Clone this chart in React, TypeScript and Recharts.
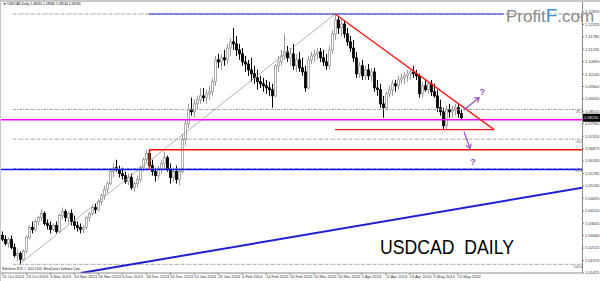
import React from 'react';
import { Bar, ComposedChart, ReferenceDot, ReferenceLine, XAxis, YAxis } from 'recharts';

// USDCAD daily, 11 Oct 2013 .. 16 May 2014
const dateLabels = [
  '11 Oct 2013', '23 Oct 2013', '4 Nov 2013', '14 Nov 2013', '26 Nov 2013', '6 Dec 2013',
  '18 Dec 2013', '31 Dec 2013', '13 Jan 2014', '23 Jan 2014', '4 Feb 2014', '14 Feb 2014',
  '26 Feb 2014', '10 Mar 2014', '20 Mar 2014', '1 Apr 2014', '11 Apr 2014', '23 Apr 2014',
  '5 May 2014', '15 May 2014',
];

// [open, high, low, close]
const candles: number[][] = [
  [1.0307, 1.0324, 1.0281, 1.0289], [1.0289, 1.0307, 1.0263, 1.0272], [1.0272, 1.0298, 1.0254, 1.0289],
  [1.0289, 1.0307, 1.0246, 1.0254], [1.0254, 1.0272, 1.0211, 1.0219], [1.0219, 1.0246, 1.0193, 1.0228],
  [1.0228, 1.0237, 1.018, 1.0202], [1.0202, 1.0246, 1.0193, 1.0237], [1.0237, 1.0307, 1.0228, 1.0298],
  [1.0298, 1.0351, 1.0289, 1.0342], [1.0342, 1.0368, 1.0316, 1.0333], [1.0333, 1.0377, 1.0324, 1.0368],
  [1.0368, 1.0394, 1.0351, 1.0386], [1.0386, 1.0421, 1.0368, 1.0403], [1.0403, 1.0412, 1.0351, 1.0359],
  [1.0359, 1.0377, 1.0333, 1.0351], [1.0351, 1.0368, 1.0316, 1.0333], [1.0333, 1.0359, 1.0324, 1.0351],
  [1.0351, 1.0368, 1.0316, 1.0324], [1.0324, 1.0403, 1.0316, 1.0394], [1.0394, 1.0429, 1.0377, 1.0412],
  [1.0412, 1.0421, 1.0368, 1.0386], [1.0386, 1.0412, 1.0359, 1.0403], [1.0403, 1.0421, 1.0351, 1.0368],
  [1.0368, 1.0394, 1.0333, 1.0351], [1.0351, 1.0368, 1.0324, 1.0342], [1.0342, 1.0359, 1.0316, 1.0333],
  [1.0333, 1.0351, 1.0316, 1.0342], [1.0342, 1.0394, 1.0333, 1.0386], [1.0386, 1.0412, 1.0368, 1.0403],
  [1.0403, 1.0438, 1.0394, 1.0429], [1.0429, 1.0447, 1.0403, 1.0421], [1.0421, 1.0464, 1.0412, 1.0456],
  [1.0456, 1.0491, 1.0438, 1.0482], [1.0482, 1.0526, 1.0464, 1.0508], [1.0508, 1.0543, 1.0491, 1.0534],
  [1.0534, 1.0596, 1.0526, 1.0587], [1.0587, 1.0622, 1.0561, 1.0604], [1.0604, 1.0639, 1.0587, 1.0596],
  [1.0596, 1.0613, 1.0561, 1.0578], [1.0578, 1.0604, 1.0552, 1.0569], [1.0569, 1.0587, 1.0534, 1.0543],
  [1.0543, 1.0578, 1.0526, 1.0561], [1.0561, 1.0578, 1.0508, 1.0517], [1.0517, 1.0543, 1.0499, 1.0534],
  [1.0534, 1.0569, 1.0517, 1.0552], [1.0552, 1.0613, 1.0543, 1.0604], [1.0604, 1.0648, 1.0587, 1.0639],
  [1.0639, 1.0683, 1.0622, 1.0666], [1.0666, 1.0674, 1.0604, 1.0613], [1.0613, 1.0639, 1.0569, 1.0587],
  [1.0587, 1.0604, 1.0543, 1.0569], [1.0569, 1.0613, 1.0552, 1.0596], [1.0596, 1.0639, 1.0578, 1.0622],
  [1.0622, 1.0674, 1.0604, 1.0648], [1.0648, 1.0657, 1.0587, 1.0596], [1.0596, 1.0622, 1.0534, 1.0561],
  [1.0561, 1.0604, 1.0543, 1.0587], [1.0587, 1.0613, 1.0534, 1.0552], [1.0552, 1.0604, 1.0526, 1.0587],
  [1.0587, 1.0753, 1.0578, 1.0727], [1.0727, 1.0814, 1.0701, 1.0797], [1.0797, 1.0884, 1.0779, 1.0858],
  [1.0858, 1.0911, 1.0832, 1.0849], [1.0849, 1.0902, 1.0823, 1.0884], [1.0884, 1.0919, 1.0858, 1.0902],
  [1.0902, 1.0954, 1.0884, 1.0919], [1.0919, 1.0954, 1.0893, 1.0911], [1.0911, 1.0946, 1.0884, 1.0928],
  [1.0928, 1.0963, 1.0902, 1.0937], [1.0937, 1.0998, 1.0919, 1.0981], [1.0981, 1.1094, 1.0963, 1.1077],
  [1.1077, 1.1103, 1.1042, 1.1068], [1.1068, 1.1103, 1.1033, 1.1086], [1.1086, 1.1121, 1.1051, 1.1077],
  [1.1077, 1.1147, 1.1059, 1.1129], [1.1129, 1.1173, 1.1094, 1.1156], [1.1156, 1.1217, 1.1121, 1.1147],
  [1.1147, 1.1182, 1.1094, 1.1121], [1.1121, 1.1147, 1.1077, 1.1103], [1.1103, 1.1129, 1.1051, 1.1068],
  [1.1068, 1.1094, 1.1024, 1.1059], [1.1059, 1.1077, 1.1007, 1.1033], [1.1033, 1.1086, 1.0981, 1.1016],
  [1.1016, 1.1051, 1.0972, 1.0998], [1.0998, 1.1033, 1.0946, 1.0981], [1.0981, 1.1007, 1.0954, 1.0972],
  [1.0972, 1.0998, 1.0937, 1.0963], [1.0963, 1.0989, 1.0928, 1.0954], [1.0954, 1.0981, 1.0919, 1.0946],
  [1.0946, 1.0972, 1.0867, 1.0919], [1.0919, 1.1059, 1.0911, 1.1051], [1.1051, 1.1094, 1.1024, 1.1068],
  [1.1068, 1.1121, 1.1051, 1.1094], [1.1094, 1.1191, 1.1077, 1.1112], [1.1112, 1.1138, 1.1068, 1.1086],
  [1.1086, 1.1129, 1.1051, 1.1103], [1.1103, 1.1147, 1.1033, 1.1051], [1.1051, 1.1103, 1.1024, 1.1077],
  [1.1077, 1.1112, 1.1024, 1.1042], [1.1042, 1.1086, 1.1007, 1.1024], [1.1024, 1.1051, 1.0937, 1.0954],
  [1.0954, 1.1094, 1.0946, 1.1077], [1.1077, 1.1112, 1.1059, 1.1094], [1.1094, 1.1121, 1.1068, 1.1103],
  [1.1103, 1.1129, 1.1077, 1.1112], [1.1112, 1.1129, 1.1068, 1.1086], [1.1086, 1.1121, 1.1051, 1.1068],
  [1.1068, 1.1103, 1.1033, 1.1051], [1.1051, 1.1138, 1.1033, 1.1121], [1.1121, 1.1208, 1.1103, 1.1191],
  [1.1191, 1.1278, 1.1164, 1.1252], [1.1252, 1.1269, 1.1191, 1.1217], [1.1217, 1.1261, 1.1182, 1.1234],
  [1.1234, 1.1252, 1.1173, 1.1191], [1.1191, 1.1217, 1.1138, 1.1156], [1.1156, 1.1182, 1.1112, 1.1129],
  [1.1129, 1.1164, 1.1068, 1.1086], [1.1086, 1.1112, 1.0998, 1.1016], [1.1016, 1.1068, 1.0998, 1.1051],
  [1.1051, 1.1077, 1.0989, 1.1007], [1.1007, 1.1051, 1.0989, 1.1033], [1.1033, 1.1059, 1.0989, 1.1007],
  [1.1007, 1.1042, 1.0981, 1.1024], [1.1024, 1.1042, 1.0937, 1.0954], [1.0954, 1.0989, 1.0919, 1.0946],
  [1.0946, 1.0972, 1.0867, 1.0884], [1.0884, 1.0919, 1.0823, 1.0867], [1.0867, 1.0937, 1.0858, 1.0928],
  [1.0928, 1.0963, 1.0911, 1.0946], [1.0946, 1.0989, 1.0919, 1.0972], [1.0972, 1.0989, 1.0937, 1.0963],
  [1.0963, 1.1007, 1.0946, 1.0989], [1.0989, 1.1016, 1.0972, 1.0998], [1.0998, 1.1024, 1.0972, 1.1007],
  [1.1007, 1.1033, 1.0981, 1.1016], [1.1016, 1.1033, 1.0989, 1.1024], [1.1024, 1.1051, 1.0998, 1.1016],
  [1.1016, 1.1033, 1.0989, 1.1007], [1.1007, 1.1016, 1.0911, 1.0928], [1.0928, 1.0981, 1.0911, 1.0963],
  [1.0963, 1.0989, 1.0937, 1.0946], [1.0946, 1.0981, 1.0928, 1.0972], [1.0972, 1.0989, 1.0919, 1.0937],
  [1.0937, 1.0972, 1.0911, 1.0919], [1.0919, 1.0946, 1.0849, 1.0867], [1.0867, 1.0902, 1.0832, 1.0849],
  [1.0849, 1.0867, 1.0771, 1.0788], [1.0788, 1.0876, 1.0771, 1.0858], [1.0858, 1.0884, 1.0823, 1.0849],
  [1.0849, 1.0876, 1.0823, 1.0858], [1.0858, 1.0884, 1.0832, 1.0867], [1.0867, 1.0884, 1.0823, 1.0841],
  [1.0841, 1.0858, 1.0814, 1.0823],
];

const priceTicks = [
  1.1287, 1.12325, 1.1178, 1.11235, 1.1069, 1.10145, 1.096, 1.09055, 1.0851, 1.07965, 1.0742,
  1.06875, 1.0633, 1.05785, 1.0524, 1.04695, 1.0415, 1.03605, 1.0306, 1.02515, 1.0197, 1.01425,
];

const fibLevels = [
  { label: '0.0', price: 1.1278 },
  { label: '38.2', price: 1.0859 },
  { label: '50.0', price: 1.0729 },
  { label: '61.8', price: 1.06 },
  { label: '100.0', price: 1.018 },
];

const slots = 194; // 154 bars + empty space on the right
const lastClose = 1.0823;

const rows = Array.from({ length: slots }, (_, i) => {
  const c = candles[i];
  return c ? { i, o: c[0], h: c[1], l: c[2], c: c[3], range: [c[2], c[1]] } : { i };
});

const Candle = (props: any) => {
  const { x, y, width, height, payload } = props;
  if (!payload || !payload.range) return null;
  const top = Math.min(y, y + height);
  const bot = Math.max(y, y + height);
  const span = payload.h - payload.l || 1;
  const toY = (v: number) => top + ((payload.h - v) / span) * (bot - top);
  const cx = Math.round(x + width / 2) + 0.5;
  const up = payload.c >= payload.o;
  const b1 = Math.min(toY(payload.o), toY(payload.c));
  const b2 = Math.max(toY(payload.o), toY(payload.c));
  const col = up ? '#9a9a9a' : '#000';
  return (
    <g>
      <line x1={cx} x2={cx} y1={top} y2={bot} stroke={col} strokeWidth={1} />
      <rect x={cx - 1} y={b1} width={2} height={Math.max(b2 - b1, 1)} fill={up ? '#fff' : '#000'} stroke={col} strokeWidth={0.8} />
    </g>
  );
};

const Arrow = (p: any) => {
  const { x1, y1, x2, y2 } = p;
  const a = Math.atan2(y2 - y1, x2 - x1);
  const hl = 5;
  const ax = x2 - hl * Math.cos(a - 0.6);
  const ay = y2 - hl * Math.sin(a - 0.6);
  const bx = x2 - hl * Math.cos(a + 0.6);
  const by = y2 - hl * Math.sin(a + 0.6);
  return (
    <g stroke="#9b4dbb" strokeWidth={1.2} fill="none">
      <line x1={x1} y1={y1} x2={x2} y2={y2} />
      <polyline points={`${ax},${ay} ${x2},${y2} ${bx},${by}`} />
    </g>
  );
};

const Question = (p: any) => (
  <text x={p.cx} y={p.cy} fill="#9b4dbb" fontSize={9} fontWeight="bold" fontFamily="Arial, Liberation Sans" textAnchor="middle" dominantBaseline="central">
    ?
  </text>
);

const PriceBox = (p: any) => {
  const vb = p.viewBox;
  const x = vb.x + vb.width + 1;
  return (
    <g>
      <rect x={x} y={vb.y - 4} width={17} height={8} fill="#000" />
      <text x={x + 1} y={vb.y + 1.5} fill="#fff" fontSize={4} fontFamily="Arial, Liberation Sans">
        {lastClose.toFixed(5)}
      </text>
    </g>
  );
};

const seg = (x1: number, y1: number, x2: number, y2: number) => [{ x: x1, y: y1 }, { x: x2, y: y2 }];

export default function App() {
  return (
    <div style={{ position: 'fixed', left: 0, top: 0, width: 600, height: 281, background: '#fff', overflow: 'hidden' }}>
      <ComposedChart width={600} height={281} data={rows} margin={{ top: 9, right: 0, left: 1, bottom: 0 }}>
        <XAxis
          dataKey="i"
          interval={0}
          ticks={dateLabels.map((_, k) => k * 8)}
          tickFormatter={(v: number) => dateLabels[v / 8] ?? ''}
          height={8}
          tickSize={2}
          tickMargin={0}
          stroke="#8a8a8a"
          tick={{ fontSize: 4, fill: '#333', textAnchor: 'start', fontFamily: 'Arial, Liberation Sans' }}
        />
        <XAxis xAxisId="n" type="number" domain={[-0.5, slots - 0.5]} hide allowDataOverflow />
        <YAxis
          orientation="right"
          domain={[1.0142, 1.13]}
          ticks={priceTicks}
          width={18}
          tickSize={2}
          tickMargin={1}
          axisLine={false}
          stroke="#8a8a8a"
          allowDataOverflow
          tickFormatter={(v: number) => v.toFixed(5)}
          tick={{ fontSize: 4, fill: '#333', fontFamily: 'Arial, Liberation Sans' }}
        />

        {fibLevels.map((f) => (
          <ReferenceLine
            key={f.label}
            xAxisId="n"
            segment={seg(4, f.price, slots - 0.5, f.price)}
            stroke="#8c8c8c"
            strokeWidth={0.8}
            strokeDasharray="3 1 1 1"
            ifOverflow="hidden"
            label={{ value: f.label, position: 'insideTopRight', fontSize: 4, fill: '#555', offset: 1 }}
          />
        ))}
        <ReferenceLine xAxisId="n" segment={seg(6, 1.018, 111, 1.1278)} stroke="#a0a0a0" strokeWidth={0.8} ifOverflow="hidden" />
        <ReferenceLine xAxisId="n" segment={seg(49, 1.1278, 167, 1.1278)} stroke="#2b2bd0" strokeWidth={1} ifOverflow="hidden" />
        <ReferenceLine xAxisId="n" segment={seg(-0.5, 1.0596, slots - 0.5, 1.0596)} stroke="#1010ff" strokeWidth={1.3} ifOverflow="hidden" />
        <ReferenceLine xAxisId="n" segment={seg(26.5, 1.0142, slots - 0.5, 1.0517)} stroke="#1f1fd8" strokeWidth={2} ifOverflow="hidden" />
        <ReferenceLine xAxisId="n" segment={seg(49.3, 1.0683, slots - 0.5, 1.0683)} stroke="#ff0000" strokeWidth={1.5} ifOverflow="hidden" />
        <ReferenceLine xAxisId="n" segment={seg(49.3, 1.0683, 49.3, 1.0596)} stroke="#ff0000" strokeWidth={1.5} ifOverflow="hidden" />
        <ReferenceLine xAxisId="n" segment={seg(-0.5, 1.0814, slots - 0.5, 1.0814)} stroke="#ff00ff" strokeWidth={1.6} ifOverflow="hidden" />

        <Bar dataKey="range" shape={Candle} isAnimationActive={false} />

        <ReferenceLine xAxisId="n" segment={seg(111, 1.1278, 163.8, 1.0771)} stroke="#ff1a1a" strokeWidth={1.4} ifOverflow="hidden" />
        <ReferenceLine xAxisId="n" segment={seg(111, 1.0771, 163.8, 1.0771)} stroke="#ff1a1a" strokeWidth={1.4} ifOverflow="hidden" />
        <ReferenceLine xAxisId="n" segment={seg(153.8, 1.0858, 158.8, 1.0911)} shape={Arrow} ifOverflow="hidden" />
        <ReferenceLine xAxisId="n" segment={seg(153.8, 1.0762, 155.8, 1.0688)} shape={Arrow} ifOverflow="hidden" />
        <ReferenceDot xAxisId="n" x={159.9} y={1.0937} shape={Question} ifOverflow="visible" />
        <ReferenceDot xAxisId="n" x={156.8} y={1.0631} shape={Question} ifOverflow="visible" />
        <ReferenceLine y={lastClose} stroke="none" ifOverflow="visible" label={<PriceBox />} />
      </ComposedChart>

      {/* terminal frame */}
      <div style={{ position: 'absolute', left: 0, top: 0, width: 600, height: 2, background: '#c8c8c8' }} />
      <div style={{ position: 'absolute', left: 0, top: 0, width: 1, height: 281, background: '#c8c8c8' }} />
      <div style={{ position: 'absolute', left: 582, top: 2, width: 1, height: 271, background: '#8a8a8a' }} />

      <div style={{ position: 'absolute', left: 3, top: 3, fontSize: 3.3, lineHeight: 1, fontFamily: 'Arial, Liberation Sans', color: '#000', whiteSpace: 'nowrap' }}>
        ▼ USDCAD,Daily 1.08410 1.08580 1.08140 1.08230
      </div>
      <div style={{ position: 'absolute', left: 506, top: 6, fontSize: 17, lineHeight: 1, fontFamily: 'Arial, Liberation Sans', color: '#8a8a8a', whiteSpace: 'nowrap' }}>
        Profit<span style={{ color: '#3d8fd6', fontSize: 19 }}>F</span>.com
      </div>
      <div style={{ position: 'absolute', left: 380, top: 236, fontSize: 21, lineHeight: 1, fontFamily: 'Arial, Liberation Sans', color: '#000', whiteSpace: 'pre', transform: 'scaleX(0.84)', transformOrigin: 'left top' }}>
        USDCAD  DAILY
      </div>
      <div style={{ position: 'absolute', left: 2, top: 268, fontSize: 3, lineHeight: 1, fontFamily: 'Arial, Liberation Sans', color: '#222', whiteSpace: 'nowrap' }}>
        Roboforex MT4, © 2001-2014, MetaQuotes Software Corp.
      </div>
    </div>
  );
}
